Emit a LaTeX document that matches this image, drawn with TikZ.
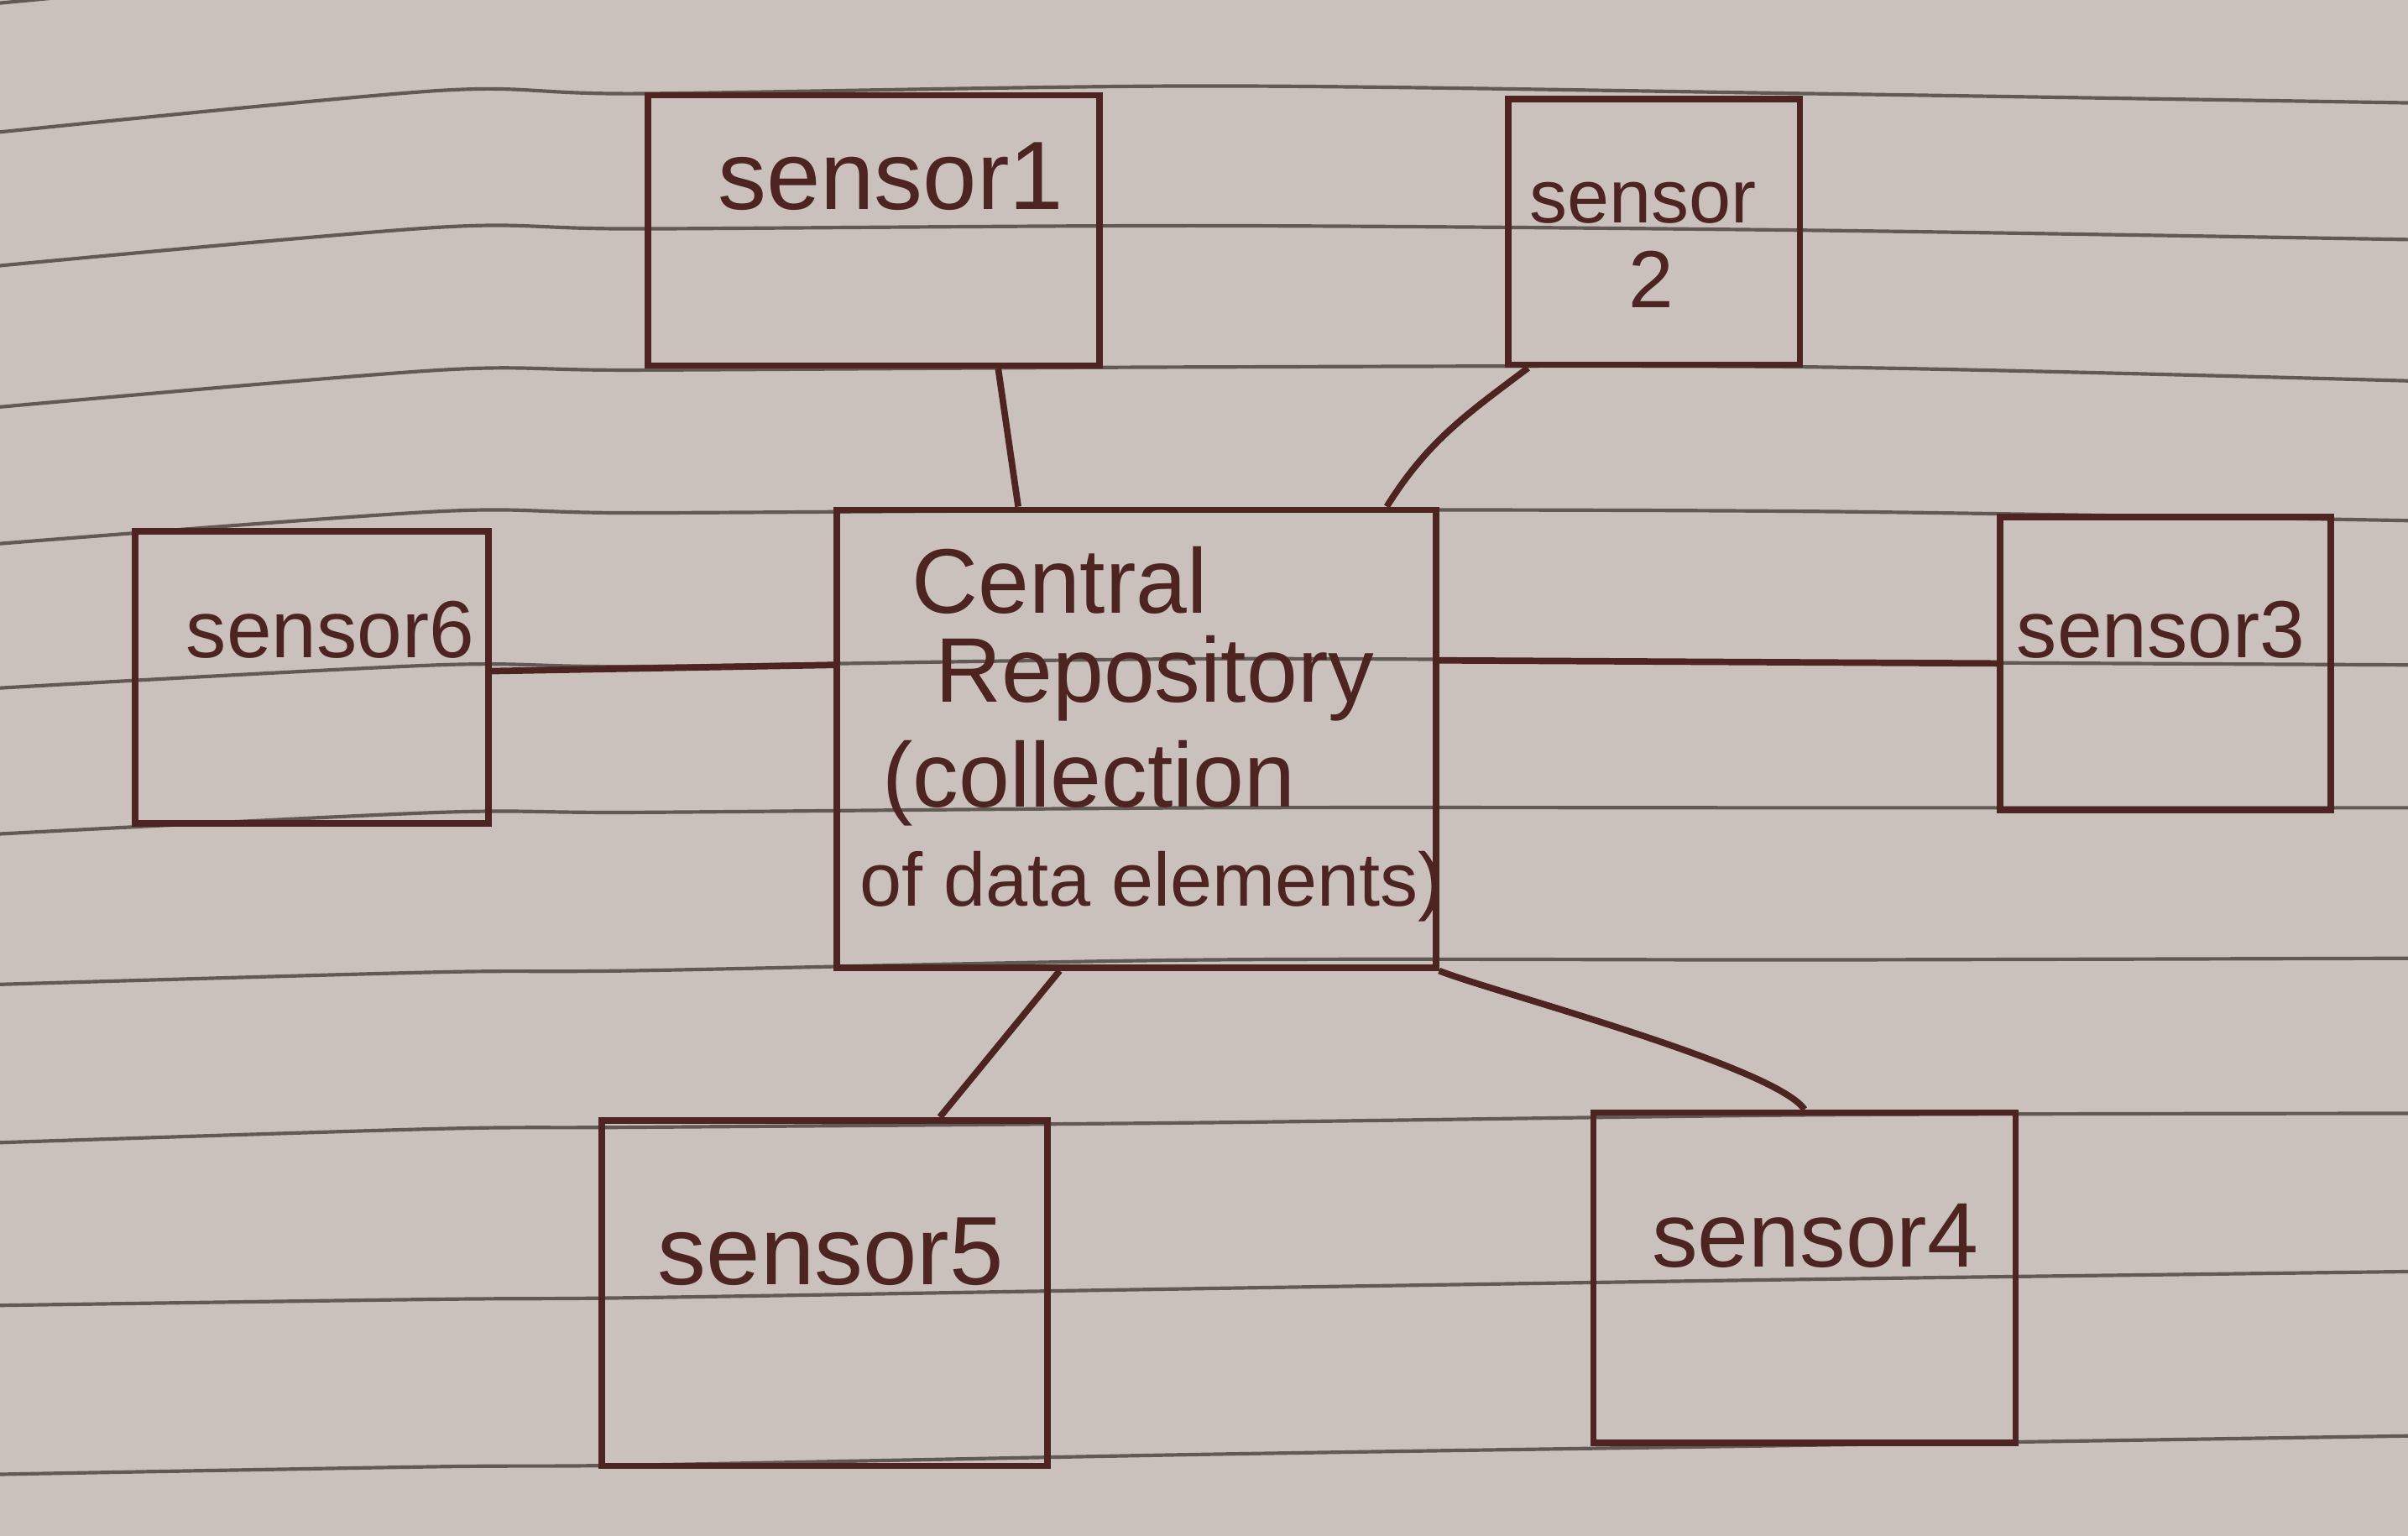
\documentclass[tikz,border=0pt]{standalone}
\usepackage{fontspec}
\setmainfont{Liberation Sans}
\usetikzlibrary{positioning}
\definecolor{papercol}{HTML}{CBC1BC}
\definecolor{rulecol}{HTML}{615954}
\definecolor{inkcol}{HTML}{4D2421}

\begin{document}
\begin{tikzpicture}[
  box/.style={draw=inkcol, line width=1.2pt, inner sep=0pt},
  lbl/.style={text=inkcol, inner sep=0pt, font=\fontsize{17}{20}\selectfont},
  small/.style={font=\fontsize{15}{18}\selectfont},
  wire/.style={draw=inkcol, line width=1.2pt}]
% фон
\fill[papercol] (0,0) rectangle (15.68,10);
\useasboundingbox (0,0) rectangle (15.68,10);
% линейки
\begin{scope}
\clip (0,0) rectangle (15.68,10);
\draw[rulecol, line width=0.65pt] (0,9.98) -- (2.86,10.25);
\foreach \a/\b/\c/\d/\e/\f in {9.14/9.41/9.39/9.44/9.39/9.33, 8.27/8.52/8.51/8.53/8.50/8.44,
    7.35/7.59/7.59/7.61/7.61/7.52, 6.46/6.67/6.66/6.68/6.67/6.61, 5.52/5.67/5.66/5.71/5.69/5.67,
    4.57/4.71/4.71/4.74/4.74/4.74, 3.59/3.67/3.68/3.75/3.75/3.76, 2.56/2.65/2.66/2.69/2.74/2.75,
    1.50/1.54/1.55/1.61/1.67/1.72, 0.40/0.45/0.46/0.53/0.59/0.65}
  \draw[rulecol, line width=0.65pt] plot[smooth] coordinates {(0,\a) (2.86,\b) (4.16,\c) (7.86,\d) (11.8,\e) (15.68,\f)};
\end{scope}
% блоки
\node[box, minimum width=2.94cm, minimum height=1.76cm] (s1) at (5.69,8.50) {};
\node[box, minimum width=1.90cm, minimum height=1.73cm] (s2) at (10.77,8.49) {};
\node[box, minimum width=3.90cm, minimum height=2.98cm] (rep) at (7.40,5.19) {};
\node[box, minimum width=2.30cm, minimum height=1.90cm] (s6) at (2.03,5.59) {};
\node[box, minimum width=2.15cm, minimum height=1.91cm] (s3) at (14.10,5.68) {};
\node[box, minimum width=2.90cm, minimum height=2.25cm] (s5) at (5.37,1.58) {};
\node[box, minimum width=2.75cm, minimum height=2.15cm] (s4) at (11.75,1.68) {};
% подписи
\node[lbl, font=\fontsize{18}{21}\selectfont] (t1) at (5.80,8.85) {sensor1};
\node[lbl, font=\fontsize{14}{17}\selectfont] (t2) at (10.70,8.68) {sensor};
\node[lbl, small] (t2b) at (10.75,8.18) {2};
\node[lbl, small] (t6) at (2.15,5.90) {sensor6};
\node[lbl, small] (t3) at (14.07,5.90) {sensor3};
\node[lbl, font=\fontsize{18}{21}\selectfont] (t5) at (5.41,1.85) {sensor5};
\node[lbl] (t4) at (11.82,1.95) {sensor4};
\node[lbl] (c1) at (6.90,6.22) {Central};
\node[lbl] (c2) at (7.52,5.58) {Repository};
\node[lbl] (c3) at (7.09,4.90) {(collection};
\node[lbl, font=\fontsize{14}{17}\selectfont] (c4) at (7.50,4.23) {of data elements)};
% связи
\draw[wire] ([xshift=0.81cm]s1.south) -- ([xshift=-0.77cm]rep.north);
\draw[wire] ([xshift=-0.82cm]s2.south) to[out=-143, in=58] ([xshift=1.63cm]rep.north);
\draw[wire] ([yshift=0.04cm]s6.east) -- ([yshift=0.48cm]rep.west);
\draw[wire] ([yshift=0.51cm]rep.east) -- (s3.west);
\draw[wire] ([xshift=-0.50cm]rep.south) -- ([xshift=0.75cm]s5.north);
\draw[wire] (rep.south east) to[out=-22, in=125, looseness=0.35] (s4.north);
\end{tikzpicture}
\end{document}
